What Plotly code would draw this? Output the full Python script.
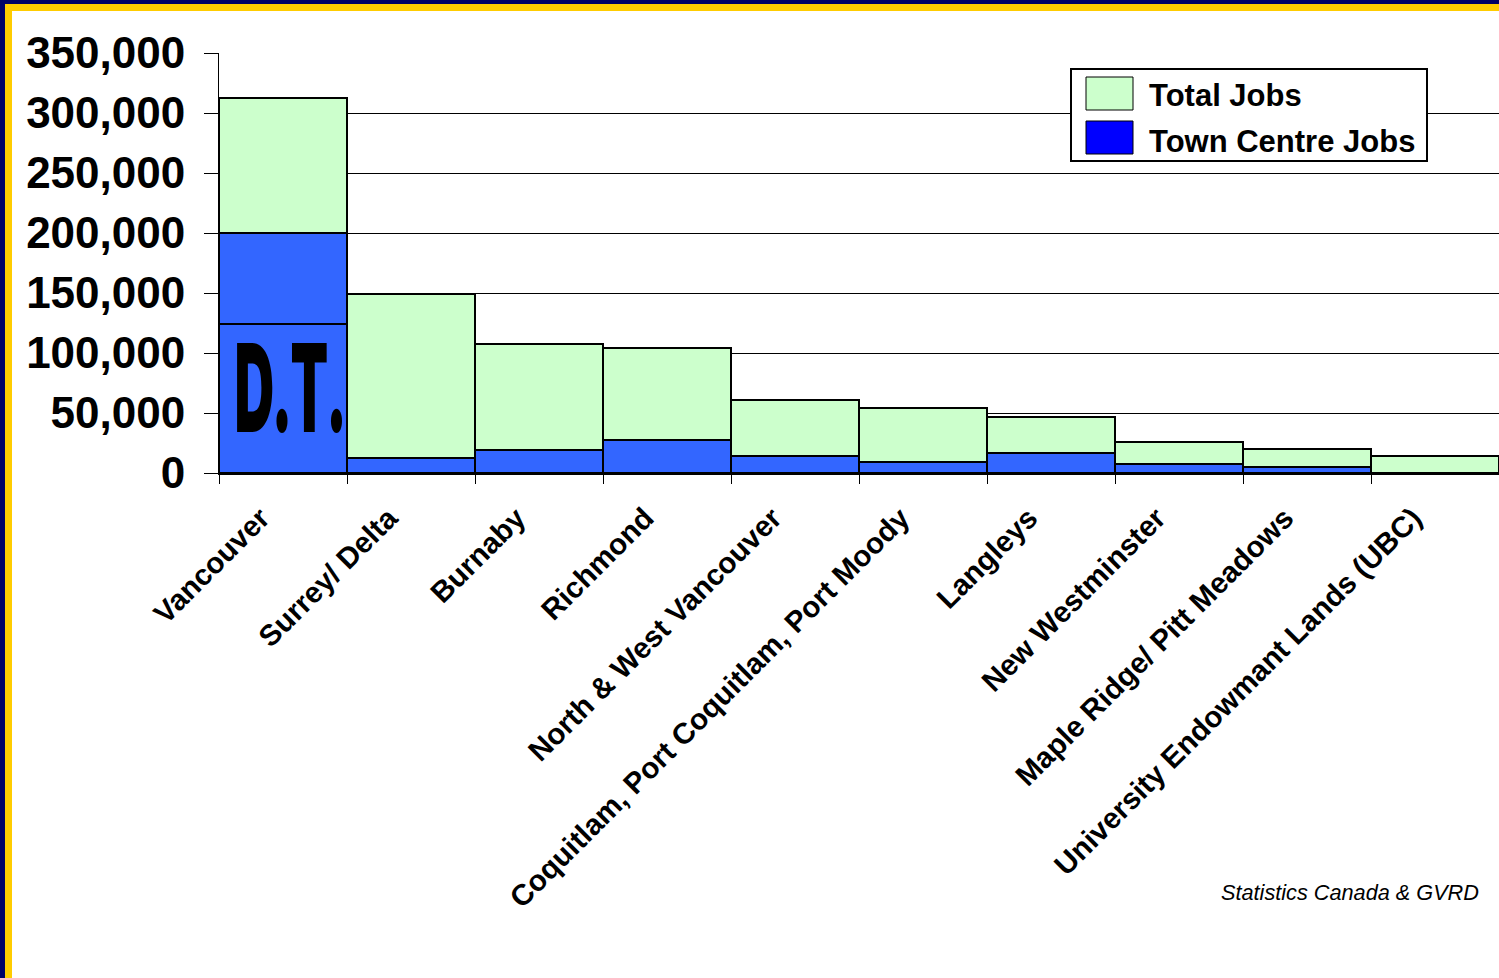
import plotly.graph_objects as go

# Employment by municipality, total vs. town centre jobs
municipalities = [
    "Vancouver", "Surrey/ Delta", "Burnaby", "Richmond",
    "North & West Vancouver", "Coquitlam, Port Coquitlam, Port Moody",
    "Langleys", "New Westminster", "Maple Ridge/ Pitt Meadows",
    "University Endowmant Lands (UBC)",
]
total_jobs = [312500, 149000, 107500, 104000, 60800, 54400, 47000, 25600, 20000, 14200]
town_centre_jobs = [200000, 12500, 19000, 27500, 13900, 9400, 16400, 7200, 5000, None]
downtown_jobs = [124000, None, None, None, None, None, None, None, None, None]

y_ticks = [0, 50000, 100000, 150000, 200000, 250000, 300000, 350000]
y_tick_labels = ["0", "50,000", "100,000", "150,000", "200,000", "250,000", "300,000", "350,000"]

GREEN = "#CCFFCC"
BLUE = "#3366FF"
LEGEND_BLUE = "#0000FF"
NAVY = "#000066"
GOLD = "#FFCC00"
FONT = "Liberation Sans, Arial, sans-serif"

W, H = 1499, 978
L, R, T, B = 219, 0, 53, 505
PW, PH = W - L - R, H - T - B


def px(x):
    return (x - L) / PW


def py(y):
    return (H - B - y) / PH


outline = dict(color="black", width=2)

fig = go.Figure()
fig.add_trace(go.Bar(x=municipalities, y=total_jobs, name="Total Jobs",
                     marker=dict(color=GREEN, line=outline)))
fig.add_trace(go.Bar(x=municipalities, y=town_centre_jobs, name="Town Centre Jobs",
                     marker=dict(color=BLUE, line=outline)))
fig.add_trace(go.Bar(x=municipalities, y=downtown_jobs, name="Downtown",
                     marker=dict(color=BLUE, line=outline)))

shapes = []
# frame: navy outer band, gold inner band on top and left edges
shapes.append(dict(type="rect", xref="paper", yref="paper", x0=px(0), x1=px(W), y0=py(0), y1=py(4),
                   fillcolor=NAVY, line_width=0))
shapes.append(dict(type="rect", xref="paper", yref="paper", x0=px(0), x1=px(5), y0=py(0), y1=py(H),
                   fillcolor=NAVY, line_width=0))
shapes.append(dict(type="rect", xref="paper", yref="paper", x0=px(5), x1=px(W), y0=py(4), y1=py(11),
                   fillcolor=GOLD, line_width=0))
shapes.append(dict(type="rect", xref="paper", yref="paper", x0=px(5), x1=px(12), y0=py(4), y1=py(H),
                   fillcolor=GOLD, line_width=0))

# legend box
shapes.append(dict(type="rect", xref="paper", yref="paper", x0=px(1071), x1=px(1427), y0=py(69), y1=py(161),
                   fillcolor="white", line=dict(color="black", width=2)))
shapes.append(dict(type="rect", xref="paper", yref="paper", x0=px(1086), x1=px(1133), y0=py(77), y1=py(110),
                   fillcolor=GREEN, line=dict(color="black", width=1)))
shapes.append(dict(type="rect", xref="paper", yref="paper", x0=px(1086), x1=px(1133), y0=py(121), y1=py(154),
                   fillcolor=LEGEND_BLUE, line=dict(color="black", width=1)))

annotations = [
    dict(text="Total Jobs", xref="paper", yref="paper", x=px(1147), y=py(96),
         xanchor="left", yanchor="middle", showarrow=False,
         font=dict(family=FONT, size=31, color="black", weight="bold")),
    dict(text="Town Centre Jobs", xref="paper", yref="paper", x=px(1147), y=py(141),
         xanchor="left", yanchor="middle", showarrow=False,
         font=dict(family=FONT, size=31, color="black", weight="bold")),
    dict(text="<i>Statistics Canada & GVRD</i>", xref="paper", yref="paper", x=px(1481), y=py(892),
         xanchor="right", yanchor="middle", showarrow=False,
         font=dict(family=FONT, size=21.7, color="black")),
    dict(text="D.T.", xref="paper", yref="paper", x=px(290), y=py(387),
         xanchor="center", yanchor="middle", showarrow=False,
         font=dict(family="Inter, Roboto, sans-serif", size=122, color="black", weight=900)),
]

fig.update_layout(
    width=W, height=H,
    margin=dict(l=L, r=R, t=T, b=B, pad=0),
    paper_bgcolor="white", plot_bgcolor="white",
    barmode="overlay", bargap=0,
    showlegend=False,
    shapes=shapes, annotations=annotations,
    font=dict(family=FONT, color="black"),
)
fig.update_xaxes(
    range=[-0.5, 9.5], showline=True, linecolor="black", linewidth=2,
    ticks="outside", tickson="boundaries", ticklen=9, tickcolor="black", tickwidth=1,
    tickangle=-45, ticklabelshift=-22, ticklabelstandoff=14,
    tickfont=dict(family=FONT, size=29.5, color="black", weight="bold"),
    showgrid=False,
)
fig.update_yaxes(
    range=[0, 350000], tickvals=y_ticks, ticktext=y_tick_labels,
    showline=True, linecolor="black", linewidth=1,
    ticks="outside", ticklen=14, tickcolor="black", tickwidth=1,
    ticklabelstandoff=10,
    tickfont=dict(family=FONT, size=44, color="black", weight="bold"),
    showgrid=True, gridcolor="black", gridwidth=1, zeroline=False,
)

# condense the heavy "D.T." lettering horizontally
post = """
var texts = document.querySelectorAll('text.annotation-text');
texts.forEach(function(t){
  if (t.textContent === 'D.T.') {
    t.style.transformBox = 'fill-box';
    t.style.transformOrigin = 'center';
    t.style.transform = 'scaleX(0.45)';
  }
});
"""

fig.write_html("out.html", post_script=post)
